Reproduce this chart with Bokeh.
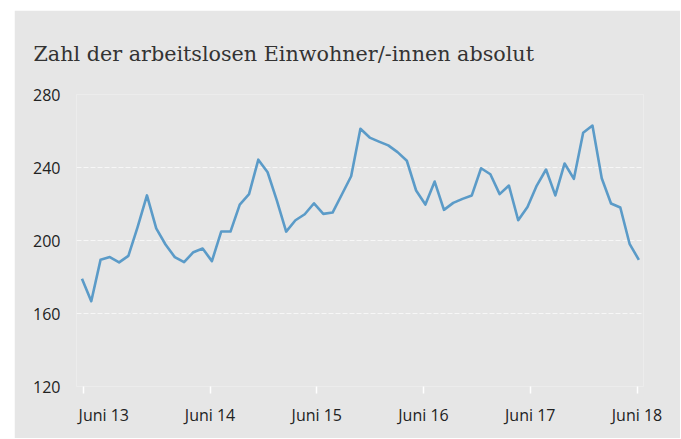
from bokeh.plotting import figure
from bokeh.models import FixedTicker, Range1d
from bokeh.embed import file_html
from bokeh.resources import INLINE

# Data (monthly, June 2013 .. June 2018)
values = [
    179.0, 166.7, 189.4, 190.9, 188.0, 191.6, 207.5, 224.7, 206.6, 197.8,
    190.9, 188.1, 193.6, 195.6, 188.7, 204.9, 204.9, 219.7, 225.4, 244.3,
    237.4, 221.8, 204.9, 211.1, 214.4, 220.4, 214.6, 215.3, 225.2, 235.2,
    261.2, 256.4, 254.2, 252.1, 248.4, 243.7, 227.4, 219.7, 232.3, 216.8,
    220.6, 222.8, 224.7, 239.6, 236.3, 225.4, 230.1, 211.1, 218.4, 230.1,
    238.9, 224.7, 242.2, 233.8, 259.0, 263.0, 234.1, 220.3, 218.1, 198.2,
    189.4,
]
months = list(range(len(values)))
y_ticks = [120, 160, 200, 240, 280]
x_tick_labels = ["Juni 13", "Juni 14", "Juni 15", "Juni 16", "Juni 17", "Juni 18"]
title_text = "Zahl der arbeitslosen Einwohner/-innen absolut"

# layout constants
label_pos = [2.35, 13.8, 25.3, 36.8, 48.3, 59.8]
mark_pos = [0.13, 13.8, 25.3, 36.8, 48.3, 59.8]

W, H = 666, 428
BG = "#e6e6e6"
p = figure(width=W, height=H, output_backend="svg", toolbar_location=None,
           x_range=Range1d(-0.59, 60.5), y_range=Range1d(120, 280),
           min_border_left=62, min_border_right=37, min_border_top=84,
           min_border_bottom=52)
p.margin = (10, 0, 0, 14)
p.background_fill_color = BG
p.border_fill_color = BG
p.outline_line_color = None

p.title.text = title_text
p.title.align = "left"
p.title.vertical_align = "top"
p.title.offset = -43
p.title.standoff = 54
p.title.text_font = "DejaVu Serif"
p.title.text_font_size = "20.7px"
p.title.text_font_style = "normal"
p.title.text_color = "#333333"

p.line(months, values, line_color="#5b9bc8", line_width=2.6, line_join="round")

# grids
p.xgrid.grid_line_color = None
p.ygrid.ticker = FixedTicker(ticks=y_ticks)
p.ygrid.grid_line_color = "#f7f7f7"
p.ygrid.grid_line_dash = "5 2"
p.ygrid.grid_line_width = 1

# y axis
ya = p.yaxis[0]
ya.ticker = FixedTicker(ticks=y_ticks)
ya.axis_line_color = None
ya.major_tick_line_color = None
ya.minor_tick_line_color = None
ya.major_tick_out = 0
ya.major_label_standoff = 16
ya.major_label_text_font = "Open Sans"
ya.major_label_text_font_size = "16px"
ya.major_label_text_color = "#222222"

# x axis
xa = p.xaxis[0]
xa.ticker = FixedTicker(ticks=label_pos, minor_ticks=mark_pos)
xa.major_label_overrides = {pos: lab for pos, lab in zip(label_pos, x_tick_labels)}
xa.axis_line_color = None
xa.major_tick_line_color = None
xa.major_tick_out = 7
xa.major_tick_in = 0
xa.minor_tick_line_color = "#ffffff"
xa.minor_tick_line_width = 1.5
xa.minor_tick_out = 7
xa.minor_tick_in = 0
xa.major_label_standoff = 10
xa.major_label_text_font = "Open Sans"
xa.major_label_text_font_size = "16px"
xa.major_label_text_color = "#222222"

open("out.html", "w").write(file_html(p, INLINE))
